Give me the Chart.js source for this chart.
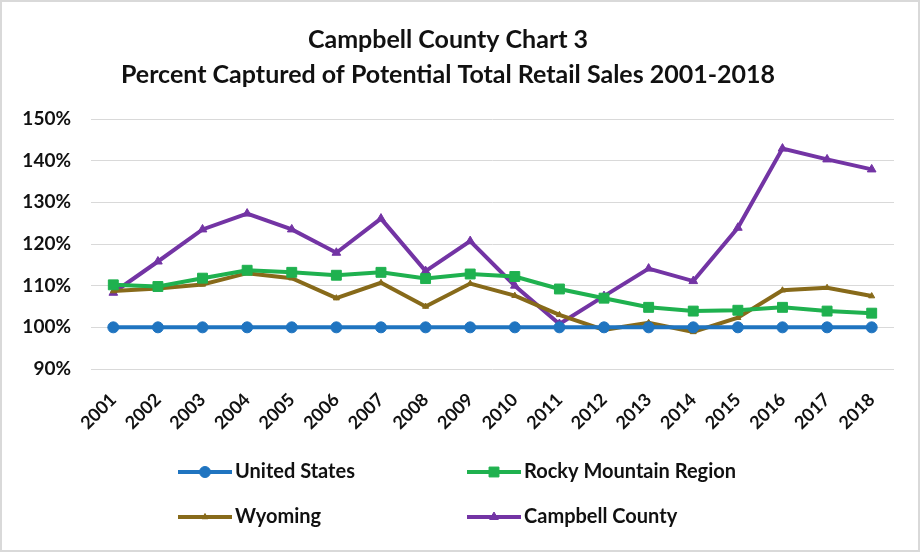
<!DOCTYPE html>
<html>
<head>
<meta charset="utf-8">
<script src="https://cdn.jsdelivr.net/npm/chart.js@4/dist/chart.umd.min.js"></script>
<style>
    html, body { margin: 0; padding: 0; background: #fff; }
    #wrap { position: relative; width: 920px; height: 552px; box-sizing: border-box; border: 2px solid #d9d9d9; }
    canvas { display: block; }
</style>
</head>
<body>
<div id="wrap"><canvas id="retailChart" width="916" height="548"></canvas></div>
<script>
// Years and series (percent captured)
const years = ['2001','2002','2003','2004','2005','2006','2007','2008','2009','2010',
               '2011','2012','2013','2014','2015','2016','2017','2018'];
const unitedStates = [100,100,100,100,100,100,100,100,100,100,100,100,100,100,100,100,100,100];
const rockyMountain = [110.2,109.8,111.8,113.7,113.2,112.5,113.2,111.7,112.8,112.2,109.2,107.0,104.8,103.9,104.1,104.8,103.9,103.4];
const wyoming = [108.7,109.3,110.3,113.0,111.8,107.0,110.7,105.0,110.5,107.6,103.0,99.4,101.1,98.9,102.3,108.9,109.5,107.5];
const campbell = [108.3,115.8,123.5,127.3,123.5,117.9,126.1,113.5,120.7,110.0,100.8,107.5,114.1,111.1,123.9,142.9,140.3,137.9];
const yTicks = [90, 100, 110, 120, 130, 140, 150];

const FONT = 'Lato, "Open Sans", sans-serif';

const seriesStyle = [
    { label: 'United States', data: unitedStates, color: '#1f74c0', pointStyle: 'circle', radius: 5.5 },
    { label: 'Rocky Mountain Region', data: rockyMountain, color: '#1fb14f', pointStyle: 'rect', radius: 7 },
    { label: 'Wyoming', data: wyoming, color: '#876a1a', pointStyle: 'triangle', radius: 3.5 },
    { label: 'Campbell County', data: campbell, color: '#7334a4', pointStyle: 'triangle', radius: 5 }
];

// two-column legend drawn under the axis
const gridLegend = {
    id: 'gridLegend',
    afterDraw(chart) {
        const ctx = chart.ctx;
        const cols = [176, 465];
        const rows = [470, 515];
        ctx.save();
        chart.data.datasets.forEach((ds, i) => {
            const x = cols[i % 2];
            const y = rows[Math.floor(i / 2)];
            ctx.strokeStyle = ds.borderColor;
            ctx.lineWidth = 4;
            ctx.beginPath();
            ctx.moveTo(x, y);
            ctx.lineTo(x + 54, y);
            ctx.stroke();
            ctx.fillStyle = ds.borderColor;
            ctx.lineWidth = 1;
            Chart.helpers.drawPoint(ctx, {
                pointStyle: ds.pointStyle,
                radius: ds.pointRadius,
                borderWidth: 1
            }, x + 27, y);
            ctx.fillStyle = '#111';
            ctx.font = 'bold 20px ' + FONT;
            ctx.textBaseline = 'middle';
            ctx.fillText(ds.label, x + 57, y);
        });
        ctx.restore();
    }
};

const ctx = document.getElementById('retailChart').getContext('2d');
new Chart(ctx, {
    type: 'line',
    data: {
        labels: years,
        datasets: seriesStyle.map(s => ({
            label: s.label,
            data: s.data,
            borderColor: s.color,
            backgroundColor: s.color,
            borderWidth: 4,
            pointStyle: s.pointStyle,
            pointRadius: s.radius,
            pointBorderWidth: 1,
            tension: 0
        }))
    },
    options: {
        responsive: false,
        animation: false,
        layout: { padding: { top: 0, right: 24, bottom: 0, left: 0 } },
        plugins: {
            legend: { display: false },
            tooltip: { enabled: false },
            title: {
                display: true,
                text: ['Campbell County Chart 3', 'Percent Captured of Potential Total Retail Sales 2001-2018'],
                color: '#111',
                font: { family: FONT, size: 25, weight: 'bold', lineHeight: 1.4 },
                padding: { top: 20, bottom: 27 }
            }
        },
        scales: {
            x: {
                offset: true,
                grid: { display: false, offset: false },
                border: { display: false },
                ticks: {
                    color: '#111',
                    font: { family: FONT, size: 18, weight: 'bold' },
                    maxRotation: 45,
                    minRotation: 45,
                    padding: 12
                },
                afterFit(scale) { scale.height = 181; }
            },
            y: {
                min: yTicks[0],
                max: yTicks[yTicks.length - 1],
                afterBuildTicks(scale) { scale.ticks = yTicks.map(v => ({ value: v })); },
                grid: { color: '#d9d9d9', lineWidth: 1, drawTicks: false },
                border: { display: false },
                ticks: {
                    color: '#111',
                    font: { family: FONT, size: 19, weight: 'bold' },
                    padding: 20,
                    callback: v => v + '%'
                },
                afterFit(scale) { scale.width = 89; }
            }
        }
    },
    plugins: [gridLegend]
});
</script>
</body>
</html>
